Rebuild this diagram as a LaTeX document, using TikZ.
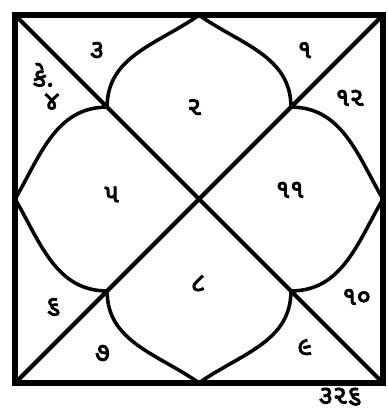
\documentclass[tikz,border=0pt]{standalone}
\usepackage{fontspec}
\newfontfamily\gujfont[Script=Gujarati,FakeBold=3.5]{Noto Sans Gujarati UI}
\usetikzlibrary{calc}
\tikzset{
  frameline/.style={line width=3.6pt, line cap=rect},
  diagline/.style={line width=2.6pt},
  petalline/.style={line width=2.2pt},
  houselabel/.style={font=\gujfont\fontsize{16}{18}\selectfont, inner sep=0pt},
}

\begin{document}
\begin{tikzpicture}
  \useasboundingbox (-0.33,-0.59) rectangle (8.09,8.33);
  % corners, side midpoints and petal tips
  \coordinate (sw) at (0,0);
  \coordinate (se) at (8,0);
  \coordinate (ne) at (8,8);
  \coordinate (nw) at (0,8);
  \coordinate (mt) at (4,8);
  \coordinate (mb) at (4,0);
  \coordinate (ml) at (0,4);
  \coordinate (mr) at (8,4);
  \coordinate (qnw) at (2,6);
  \coordinate (qne) at (6,6);
  \coordinate (qsw) at (2,2);
  \coordinate (qse) at (6,2);

  \draw[frameline] (sw) rectangle (ne);
  \draw[diagline] (sw) -- (ne);
  \draw[diagline] (nw) -- (se);

  % lotus petals
  \draw[petalline] (qnw) to[out=90,in=-145] (mt) to[out=-35,in=90] (qne);
  \draw[petalline] (qne) to[out=0,in=120] (mr) to[out=-120,in=0] (qse);
  \draw[petalline] (qse) to[out=-90,in=35] (mb) to[out=145,in=-90] (qsw);
  \draw[petalline] (qsw) to[out=180,in=-60] (ml) to[out=60,in=180] (qnw);

  % house numbers
  \foreach \nm/\x/\y/\txt in {h1/6.3/7.24/૧, h2/3.9/6.0/૨, h3/1.78/7.24/૩,
      h4/0.8/6.12/૪, h5/2.1/4.1/૫, h6/0.83/1.65/૬, h7/1.9/0.65/૭,
      h8/3.98/2.17/૮, h9/6.3/0.78/૯, h10/7.43/1.87/૧૦, h11/5.98/4.2/૧૧,
      h12/7.28/6.2/૧૨}
    \node[houselabel] (\nm) at (\x,\y) {\txt};
  \node[houselabel] (ketu) at (0.61,6.7) {કે.};
  \node[houselabel] (pageno) at (7.07,-0.3) {૩૨૬};
\end{tikzpicture}
\end{document}
